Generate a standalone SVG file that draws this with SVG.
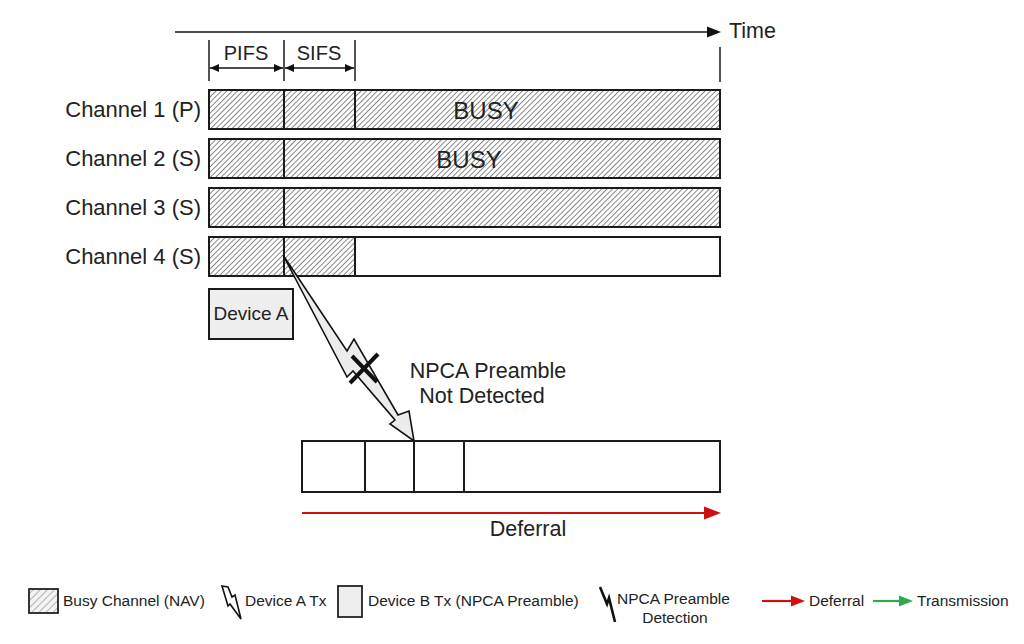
<svg xmlns="http://www.w3.org/2000/svg" width="1024" height="644" viewBox="0 0 1024 644">
<defs>
  <pattern id="hatch" patternUnits="userSpaceOnUse" width="3.8" height="3.8" patternTransform="rotate(45)">
    <rect width="3.8" height="3.8" fill="#ffffff"/>
    <line x1="0" y1="0" x2="0" y2="3.8" stroke="#3a3a3a" stroke-width="1.2"/>
  </pattern>
  <pattern id="hatchL" patternUnits="userSpaceOnUse" width="5" height="5" patternTransform="rotate(45)">
    <rect width="5" height="5" fill="#f4f4f4"/>
    <line x1="0" y1="0" x2="0" y2="5" stroke="#8a8a8a" stroke-width="1.2"/>
  </pattern>
  <marker id="ah" markerWidth="10" markerHeight="10" refX="9" refY="5" orient="auto" markerUnits="userSpaceOnUse">
    <path d="M0,1 L9,5 L0,9 Z" fill="#111"/>
  </marker>
  <marker id="ahs" markerWidth="10" markerHeight="10" refX="9" refY="5" orient="auto-start-reverse" markerUnits="userSpaceOnUse">
    <path d="M0,1 L9,5 L0,9 Z" fill="#111"/>
  </marker>
</defs>
<style>
  text { font-family: "Liberation Sans", Arial, sans-serif; fill: #222; }
  .lbl { font-size: 21.5px; }
  .lg { font-size: 15.5px; }
  .bar { stroke: #1a1a1a; stroke-width: 2; }
  .div { stroke: #1a1a1a; stroke-width: 2; }
  .tick { stroke: #1a1a1a; stroke-width: 1.5; }
</style>
<rect width="1024" height="644" fill="#ffffff"/>

<g id="time-axis">
  <line x1="175" y1="32" x2="708" y2="32" stroke="#111" stroke-width="1.6"/>
  <polygon points="707,26.5 721,32 707,37.5" fill="#111"/>
  <text x="729" y="38" class="lbl">Time</text>
  <line class="tick" x1="209" y1="40" x2="209" y2="81"/>
  <line class="tick" x1="284" y1="40" x2="284" y2="81"/>
  <line class="tick" x1="355" y1="40" x2="355" y2="81"/>
  <line class="tick" x1="720" y1="47" x2="720" y2="82"/>
</g>

<g id="intervals">
  <line x1="210" y1="68" x2="283" y2="68" stroke="#111" stroke-width="1.5" marker-start="url(#ahs)" marker-end="url(#ah)"/>
  <line x1="285" y1="68" x2="354" y2="68" stroke="#111" stroke-width="1.5" marker-start="url(#ahs)" marker-end="url(#ah)"/>
  <text x="246" y="60" text-anchor="middle" style="font-size:20px">PIFS</text>
  <text x="319" y="60" text-anchor="middle" style="font-size:20px">SIFS</text>
</g>

<g id="channel1">
  <text x="201" y="117" class="lbl" text-anchor="end" style="font-size:22px">Channel 1 (P)</text>
  <rect class="bar" x="209" y="90" width="511" height="39" fill="url(#hatch)"/>
  <line class="div" x1="284" y1="90" x2="284" y2="129"/>
  <line class="div" x1="355" y1="90" x2="355" y2="129"/>
  <text x="486" y="119" text-anchor="middle" style="font-size:24px">BUSY</text>
</g>

<g id="channel2">
  <text x="201" y="166" class="lbl" text-anchor="end" style="font-size:22px">Channel 2 (S)</text>
  <rect class="bar" x="209" y="139" width="511" height="39" fill="url(#hatch)"/>
  <line class="div" x1="284" y1="139" x2="284" y2="178"/>
  <text x="469" y="168" text-anchor="middle" style="font-size:24px">BUSY</text>
</g>

<g id="channel3">
  <text x="201" y="215" class="lbl" text-anchor="end" style="font-size:22px">Channel 3 (S)</text>
  <rect class="bar" x="209" y="188" width="511" height="39" fill="url(#hatch)"/>
  <line class="div" x1="284" y1="188" x2="284" y2="227"/>
</g>

<g id="channel4">
  <text x="201" y="264" class="lbl" text-anchor="end" style="font-size:22px">Channel 4 (S)</text>
  <rect class="bar" x="209" y="237" width="511" height="39" fill="#ffffff"/>
  <rect class="bar" x="209" y="237" width="146" height="39" fill="url(#hatch)"/>
  <line class="div" x1="284" y1="237" x2="284" y2="276"/>
</g>

<g id="deviceA">
  <rect x="209" y="289" width="84" height="50" fill="#eeeeee" stroke="#1a1a1a" stroke-width="2"/>
  <text x="251" y="320" text-anchor="middle" style="font-size:19px">Device A</text>
</g>

<g id="connectors">
  <polygon points="283,255 347,351 354,339 398,415 409,411 414,441 390,424 395,420 353,371 347,377" fill="#ececec" stroke="#111" stroke-width="1.6" stroke-linejoin="miter"/>
  <g stroke="#111" stroke-width="4" stroke-linecap="butt">
    <line x1="350" y1="383" x2="378" y2="354"/>
    <line x1="352" y1="356" x2="377" y2="382"/>
  </g>
  <line x1="302" y1="513" x2="705" y2="513" stroke="#cc1111" stroke-width="2.2"/>
  <polygon points="704,506.5 721,513 704,519.5" fill="#cc1111"/>
</g>

<g id="not-detected-label">
  <text x="488" y="378" class="lbl" text-anchor="middle">NPCA Preamble</text>
  <text x="482" y="403" class="lbl" text-anchor="middle">Not Detected</text>
</g>

<g id="deviceB">
  <rect class="bar" x="302" y="441" width="418" height="51" fill="#ffffff"/>
  <line class="div" x1="365" y1="441" x2="365" y2="492"/>
  <line class="div" x1="414" y1="441" x2="414" y2="492"/>
  <line class="div" x1="464" y1="441" x2="464" y2="492"/>
</g>

<g id="deferral-label">
  <text x="528" y="536" class="lbl" text-anchor="middle">Deferral</text>
</g>

<g id="legend">
  <rect x="29" y="589" width="29" height="24" fill="url(#hatchL)" stroke="#222" stroke-width="1.8"/>
  <text x="63" y="606" class="lg">Busy Channel (NAV)</text>

  <polygon points="222,586 228,587 232,597 235,595 241,619 230,604 228,606" fill="#ffffff" stroke="#111" stroke-width="1.6" stroke-linejoin="miter"/>
  <text x="245" y="606" class="lg">Device A Tx</text>

  <rect x="338" y="586" width="24" height="31" fill="#eeeeee" stroke="#222" stroke-width="1.8"/>
  <text x="368" y="606" class="lg">Device B Tx (NPCA Preamble)</text>

  <polyline points="600,587 607,604 609,598 615,622" fill="none" stroke="#111" stroke-width="2.6" stroke-linejoin="miter"/>
  <text x="617" y="604" class="lg">NPCA Preamble</text>
  <text x="675" y="623" class="lg" text-anchor="middle">Detection</text>

  <line x1="762" y1="601" x2="792" y2="601" stroke="#cc1111" stroke-width="2.2"/>
  <polygon points="791,595.5 805,601 791,606.5" fill="#cc1111"/>
  <text x="809" y="606" class="lg">Deferral</text>

  <line x1="873" y1="601" x2="900" y2="601" stroke="#2faa4a" stroke-width="2.2"/>
  <polygon points="899,595.5 913,601 899,606.5" fill="#2faa4a"/>
  <text x="917" y="606" class="lg">Transmission</text>
</g>
</svg>
